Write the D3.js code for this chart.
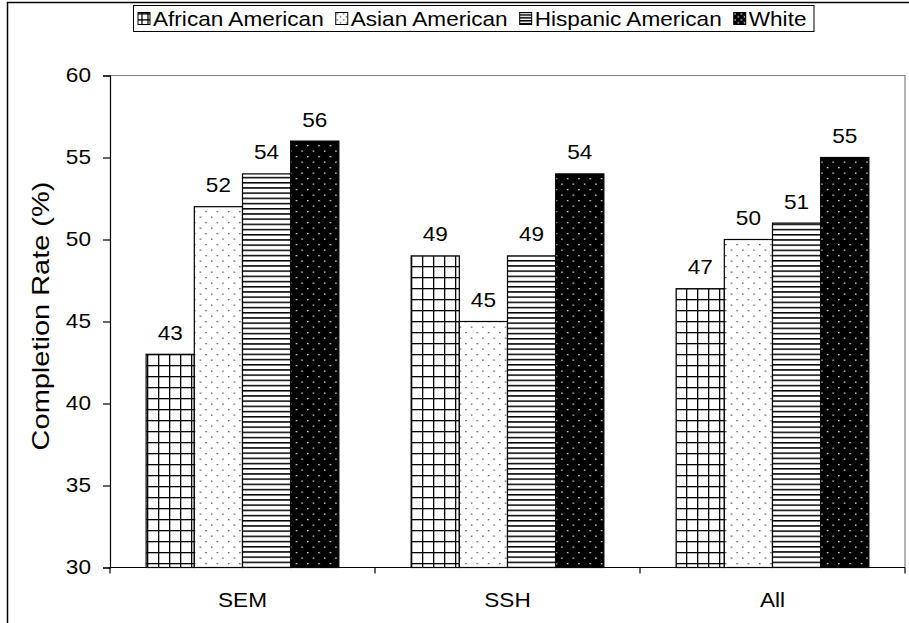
<!DOCTYPE html>
<html>
<head>
<meta charset="utf-8">
<script src="https://cdn.jsdelivr.net/npm/d3@7"></script>
<style>
  html, body { margin: 0; padding: 0; background: #fff; }
  svg { display: block; }
  text { font-family: "Liberation Sans", Arial, sans-serif; fill: #000; }
</style>
</head>
<body>
<svg id="chart" width="909" height="623"></svg>
<script>
// Completion rates by field and group
const categories = ["SEM", "SSH", "All"];
const groups = ["African American", "Asian American", "Hispanic American", "White"];
const africanAmerican = [43, 49, 47];
const asianAmerican = [52, 45, 50];
const hispanicAmerican = [54, 49, 51];
const white = [56, 54, 55];
const yTicks = [30, 35, 40, 45, 50, 55, 60];
const yTitle = "Completion Rate (%)";

const seriesValues = [africanAmerican, asianAmerican, hispanicAmerican, white];
const patternIds = ["pat-grid", "pat-dots", "pat-hlines", "pat-darkdots"];

const svg = d3.select("#chart");
const W = 909, H = 623;
const margin = { left: 110, right: 4, top: 75.5, bottom: 55.5 };
const plotW = W - margin.left - margin.right;
const plotH = H - margin.top - margin.bottom;
const SX = 1.13;   // horizontal text stretch
const FS = 20;     // base font size

// ---- fill patterns ----
const defs = svg.append("defs");
function makePatterns(prefix, s) {
  // cross-hatched grid
  const g = defs.append("pattern").attr("id", prefix + "grid")
    .attr("patternUnits", "userSpaceOnUse").attr("width", 11 * s).attr("height", 11 * s)
    .attr("x", 4 * s).attr("y", 2 * s);
  g.append("rect").attr("width", 11 * s).attr("height", 11 * s).attr("fill", "#fff");
  g.append("rect").attr("x", 0).attr("y", 0).attr("width", 1.3).attr("height", 11 * s).attr("fill", "#000");
  g.append("rect").attr("x", 0).attr("y", 0).attr("width", 11 * s).attr("height", 1.3).attr("fill", "#000");

  // sparse dots on white
  const d = defs.append("pattern").attr("id", prefix + "dots")
    .attr("patternUnits", "userSpaceOnUse").attr("width", 11.3 * s).attr("height", 11 * s);
  d.append("rect").attr("width", 11.3 * s).attr("height", 11 * s).attr("fill", "#fff");
  d.append("rect").attr("x", 2 * s).attr("y", 2 * s).attr("width", 1.3).attr("height", 1.3).attr("fill", "#444");
  d.append("rect").attr("x", 7.65 * s).attr("y", 7.5 * s).attr("width", 1.3).attr("height", 1.3).attr("fill", "#444");

  // horizontal lines
  const h = defs.append("pattern").attr("id", prefix + "hlines")
    .attr("patternUnits", "userSpaceOnUse").attr("width", 10).attr("height", 5.2 * s);
  h.append("rect").attr("width", 10).attr("height", 5.2 * s).attr("fill", "#fff");
  h.append("rect").attr("x", 0).attr("y", 0).attr("width", 10).attr("height", 1.5).attr("fill", "#000");

  // white dots on black
  const k = defs.append("pattern").attr("id", prefix + "darkdots")
    .attr("patternUnits", "userSpaceOnUse").attr("width", 11.3 * s).attr("height", 11 * s);
  k.append("rect").attr("width", 11.3 * s).attr("height", 11 * s).attr("fill", "#000");
  k.append("rect").attr("x", 2 * s).attr("y", 2 * s).attr("width", 1.3).attr("height", 1.3).attr("fill", "#fff");
  k.append("rect").attr("x", 7.65 * s).attr("y", 7.5 * s).attr("width", 1.3).attr("height", 1.3).attr("fill", "#fff");
}
makePatterns("pat-", 1);
makePatterns("leg-", 0.55);

// ---- outer frame ----
svg.append("rect").attr("x", 7.5).attr("y", 2.5).attr("width", 930).attr("height", 640)
  .attr("fill", "none").attr("stroke", "#000").attr("stroke-width", 1.5);

// ---- scales ----
const x0 = d3.scaleBand().domain(categories).range([margin.left, margin.left + plotW]);
const barW = x0.bandwidth() / 5.5;
const x1 = d3.scaleBand().domain(groups)
  .range([0.75 * barW, 0.75 * barW + 4 * barW]);
const y = d3.scaleLinear().domain([30, 60]).range([margin.top + plotH, margin.top]);

// plot area frame (top & right)
svg.append("path")
  .attr("d", `M${margin.left},${margin.top}H${margin.left + plotW}V${margin.top + plotH}`)
  .attr("fill", "none").attr("stroke", "#808080").attr("stroke-width", 1.2);

// ---- bars ----
const barG = svg.append("g");
categories.forEach((cat, ci) => {
  groups.forEach((grp, gi) => {
    const v = seriesValues[gi][ci];
    const bx = x0(cat) + x1(grp);
    barG.append("rect")
      .attr("x", bx).attr("y", y(v))
      .attr("width", x1.bandwidth()).attr("height", y(30) - y(v))
      .attr("fill", `url(#${patternIds[gi]})`)
      .attr("stroke", "#000").attr("stroke-width", 1.2);
    barG.append("text")
      .attr("transform", `translate(${bx + x1.bandwidth() / 2},${y(v) - 14.5}) scale(${SX},1)`)
      .attr("text-anchor", "middle").attr("font-size", FS)
      .text(v);
  });
});

// ---- axes ----
const yAxis = d3.axisLeft(y).tickValues(yTicks).tickSize(7).tickPadding(12).tickFormat(d3.format("d"));
const yg = svg.append("g").attr("transform", `translate(${margin.left},0)`).call(yAxis);
yg.select(".domain").attr("stroke", "#000").attr("stroke-width", 1.2);
yg.selectAll(".tick line").attr("stroke", "#000").attr("stroke-width", 1.2);
yg.selectAll(".tick text").attr("font-size", FS).attr("font-family", "Liberation Sans, Arial, sans-serif")
  .each(function () {
    const t = d3.select(this);
    const xx = +t.attr("x");
    t.attr("x", null).attr("transform", `translate(${xx},0) scale(${SX},1)`);
  });

const xAxis = d3.axisBottom(x0).tickSize(0).tickPadding(0).tickFormat(() => "");
const xg = svg.append("g").attr("transform", `translate(0,${margin.top + plotH})`).call(xAxis);
xg.select(".domain").remove();
xg.append("line").attr("x1", margin.left).attr("x2", margin.left + plotW)
  .attr("stroke", "#000").attr("stroke-width", 1.2);
// category separators
const seps = categories.map(c => x0(c)).concat([margin.left + plotW]);
xg.selectAll("line.sep").data(seps).enter().append("line").attr("class", "sep")
  .attr("x1", d => d).attr("x2", d => d).attr("y1", 0).attr("y2", 6)
  .attr("stroke", "#000").attr("stroke-width", 1.2);
xg.selectAll("text.cat").data(categories).enter().append("text").attr("class", "cat")
  .attr("transform", d => `translate(${x0(d) + x0.bandwidth() / 2},39) scale(${SX},1)`)
  .attr("text-anchor", "middle").attr("font-size", FS)
  .text(d => d);

// y title
svg.append("text")
  .attr("transform", `translate(49,316) rotate(-90) scale(1.38,1.12)`)
  .attr("text-anchor", "middle").attr("font-size", 21)
  .text(yTitle);

// ---- legend ----
const legG = svg.append("g");
const legX = 133, legY = 5, legH = 26;
const legItems = legG.append("g");
let cx = legX + 5;
groups.forEach((grp, gi) => {
  legItems.append("rect").attr("x", cx).attr("y", legY + 7.5).attr("width", 12).attr("height", 12)
    .attr("fill", `url(#leg-${patternIds[gi].slice(4)})`).attr("stroke", "#000").attr("stroke-width", 1);
  cx += 15;
  const t = legItems.append("text")
    .attr("transform", `translate(${cx},${legY + 20.5}) scale(${SX},1)`)
    .attr("font-size", FS).text(grp);
  cx += t.node().getComputedTextLength() * SX + 12;
});
legG.insert("rect", ":first-child")
  .attr("x", legX + 0.5).attr("y", legY + 0.5).attr("width", cx - legX - 5).attr("height", legH)
  .attr("fill", "#fff").attr("stroke", "#000").attr("stroke-width", 1);
</script>
</body>
</html>
